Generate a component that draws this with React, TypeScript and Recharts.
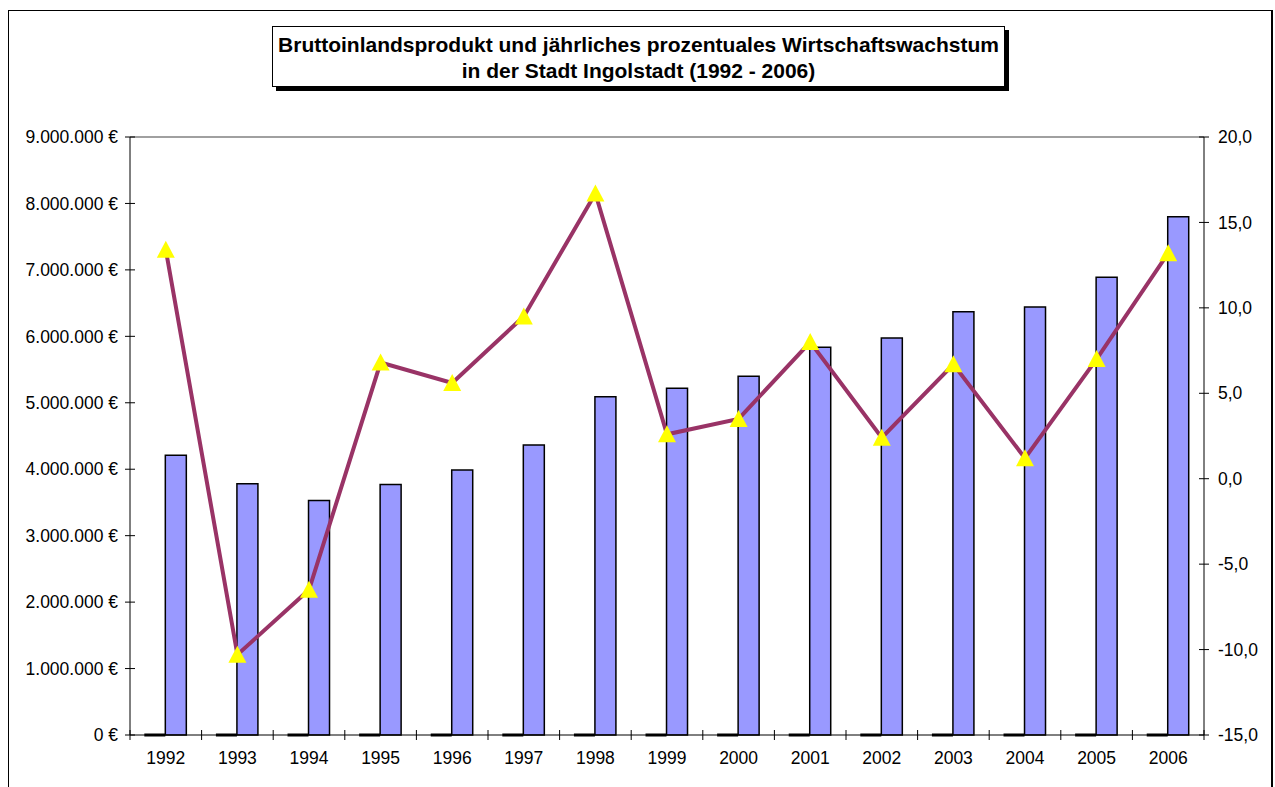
import React from "react";
import { ComposedChart, Bar, Line, XAxis, YAxis, ReferenceLine } from "recharts";

const years = ["1992", "1993", "1994", "1995", "1996", "1997", "1998", "1999", "2000", "2001", "2002", "2003", "2004", "2005", "2006"];
const leer = [0, 0, 0, 0, 0, 0, 0, 0, 0, 0, 0, 0, 0, 0, 0];
const bip = [4210000, 3780000, 3530000, 3770000, 3990000, 4365000, 5090000, 5220000, 5400000, 5835000, 5975000, 6370000, 6440000, 6890000, 7800000];
const wachstum = [13.4, -10.3, -6.5, 6.8, 5.6, 9.5, 16.7, 2.6, 3.5, 8.0, 2.4, 6.7, 1.2, 7.0, 13.2];
const leftTicks = [0, 1000000, 2000000, 3000000, 4000000, 5000000, 6000000, 7000000, 8000000, 9000000];
const rightTicks = [-15, -10, -5, 0, 5, 10, 15, 20];

const data = years.map((y, i) => ({ jahr: y, leer: leer[i], bip: bip[i], wachstum: wachstum[i] }));

const FONT = "'Liberation Sans', Arial, sans-serif";
const W = 1275;
const H = 787;
const margin = { top: 137, right: 11, bottom: 22, left: 30 };
const leftW = 100;
const rightW = 60;
const xH = 30;
const plotW = W - margin.left - margin.right - leftW - rightW;
const slot = plotW / years.length;
const FS = 17.5;

const euro = (v: number) => String(v).replace(/\B(?=(\d{3})+(?!\d))/g, ".") + " €";
const pct = (v: number) => v.toFixed(1).replace(".", ",");

const LeftTick = (props: any) => {
  const { x, y, payload } = props;
  return (
    <g>
      <line x1={x + 7} x2={x + 17} y1={y} y2={y} stroke="#000" strokeWidth={1} />
      <text x={x} y={y} dy="0.355em" textAnchor="end" fontSize={FS} fontFamily={FONT} fill="#000">
        {euro(payload.value)}
      </text>
    </g>
  );
};

const RightTick = (props: any) => {
  const { x, y, payload } = props;
  return (
    <g>
      <line x1={x - 19} x2={x - 9} y1={y} y2={y} stroke="#000" strokeWidth={1} />
      <text x={x} y={y} dy="0.355em" textAnchor="start" fontSize={FS} fontFamily={FONT} fill="#000">
        {pct(payload.value)}
      </text>
    </g>
  );
};

const BottomTick = (props: any) => {
  const { x, y, payload, index } = props;
  const ay = y - 17;
  return (
    <g>
      <line x1={x - slot / 2} x2={x - slot / 2} y1={ay - 5} y2={ay + 5} stroke="#000" strokeWidth={1} />
      {index === years.length - 1 && (
        <line x1={x + slot / 2} x2={x + slot / 2} y1={ay - 5} y2={ay + 5} stroke="#000" strokeWidth={1} />
      )}
      <text x={x} y={y} dy="0.71em" textAnchor="middle" fontSize={FS} fontFamily={FONT} fill="#000">
        {payload.value}
      </text>
    </g>
  );
};

const FlatBar = (props: any) => {
  const { x, y, width, height } = props;
  const by = y + (height || 0);
  return <line x1={x} x2={x + width} y1={by} y2={by} stroke="#000" strokeWidth={3} />;
};

const Triangle = (props: any) => {
  const { cx, cy } = props;
  if (cx == null || cy == null) return null;
  return <polygon points={`${cx},${cy - 9} ${cx - 9},${cy + 8} ${cx + 9},${cy + 8}`} fill="#FFFF00" stroke="none" />;
};

export default function App() {
  return (
    <div style={{ position: "absolute", left: 0, top: 0, width: W, height: H, overflow: "hidden", background: "#fff", fontFamily: FONT }}>
      <div
        style={{
          position: "absolute",
          left: 8,
          top: 10,
          width: 1262,
          height: 800,
          borderLeft: "1px solid #000",
          borderTop: "1px solid #000",
          borderRight: "2px solid #000",
        }}
      />
      <ComposedChart width={W} height={H} data={data} margin={margin} barCategoryGap="20%" barGap={0} style={{ position: "absolute", left: 0, top: 0 }}>
        <XAxis
          dataKey="jahr"
          xAxisId="x"
          height={xH}
          tickSize={5}
          tickMargin={12}
          tickLine={false}
          axisLine={{ stroke: "#000" }}
          tick={<BottomTick />}
          interval={0}
        />
        <YAxis
          yAxisId="left"
          orientation="left"
          width={leftW}
          domain={[0, 9000000]}
          ticks={leftTicks}
          tickSize={5}
          tickMargin={7}
          tickLine={false}
          axisLine={{ stroke: "#000" }}
          tick={<LeftTick />}
          interval={0}
        />
        <YAxis
          yAxisId="right"
          orientation="right"
          width={rightW}
          domain={[-15, 20]}
          ticks={rightTicks}
          tickSize={5}
          tickMargin={9}
          tickLine={false}
          axisLine={{ stroke: "#000" }}
          tick={<RightTick />}
          interval={0}
        />
        <ReferenceLine yAxisId="left" xAxisId="x" y={9000000} stroke="#808080" strokeWidth={1.5} />
        <Bar dataKey="leer" xAxisId="x" yAxisId="left" shape={<FlatBar />} isAnimationActive={false} />
        <Bar dataKey="bip" xAxisId="x" yAxisId="left" fill="#9999FF" stroke="#000" strokeWidth={1.5} isAnimationActive={false} />
        <Line
          dataKey="wachstum"
          xAxisId="x"
          yAxisId="right"
          type="linear"
          stroke="#993366"
          strokeWidth={4}
          dot={<Triangle />}
          activeDot={false}
          isAnimationActive={false}
        />
      </ComposedChart>
      <div
        style={{
          position: "absolute",
          left: 272,
          top: 26,
          width: 733,
          height: 61,
          border: "1px solid #000",
          boxShadow: "4px 4px 0 #000",
          background: "#fff",
          textAlign: "center",
          fontWeight: "bold",
          fontSize: 21,
          lineHeight: "26px",
          paddingTop: 5,
          boxSizing: "border-box",
          whiteSpace: "nowrap",
        }}
      >
        <div>Bruttoinlandsprodukt und jährliches prozentuales Wirtschaftswachstum</div>
        <div>in der Stadt Ingolstadt (1992 - 2006)</div>
      </div>
    </div>
  );
}
